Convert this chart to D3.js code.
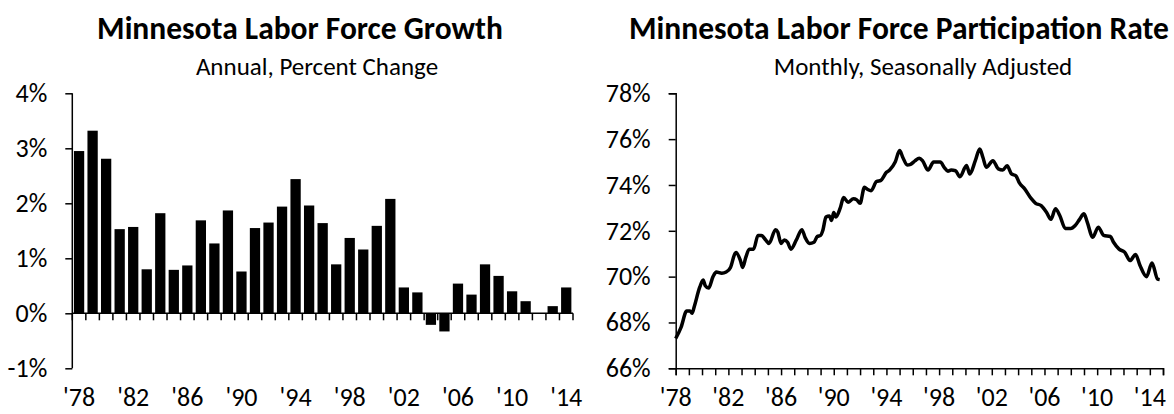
<!DOCTYPE html>
<html lang="en">
<head>
<meta charset="utf-8">
<title>Minnesota Labor Force</title>
<script src="https://d3js.org/d3.v7.min.js"></script>
<style>
  body { margin: 0; background: #fff; }
  svg text { font-family: Carlito, Calibri, Lato, "Open Sans", sans-serif; fill: #000; }
  .title { font-weight: bold; font-size: 31.5px; }
  .sub { font-size: 25px; }
  .tick-label { font-size: 26px; }
</style>
</head>
<body>
<div id="chart"></div>
<script>
// left chart: annual growth, percent
var years = d3.range(1978, 2015);
var growth = [2.95, 3.32, 2.81, 1.53, 1.57, 0.80, 1.82, 0.79, 0.87, 1.69,
              1.27, 1.87, 0.76, 1.55, 1.65, 1.94, 2.44, 1.96, 1.64, 0.89,
              1.37, 1.16, 1.59, 2.08, 0.47, 0.38, -0.21, -0.33, 0.54, 0.34,
              0.89, 0.68, 0.40, 0.22, 0.00, 0.13, 0.47];
var growthTicks = [4, 3, 2, 1, 0, -1];

// right chart: participation rate, monthly
var rateDates = ["1978-01","1978-06","1978-11","1979-02","1979-04","1979-06","1979-11","1980-02","1980-04","1980-07",
  "1980-11","1981-02","1981-07","1981-11","1982-03","1982-07","1982-08","1982-12","1983-02","1983-05",
  "1983-08","1983-12","1984-04","1984-07","1984-11","1985-02","1985-08","1985-10","1986-01","1986-04",
  "1986-07","1986-10","1987-03","1987-08","1987-11","1988-03","1988-07","1988-10","1989-01","1989-03",
  "1989-06","1989-09","1989-11","1990-01","1990-03","1990-07","1990-10","1991-02","1991-07","1991-10",
  "1992-01","1992-05","1992-08","1992-11","1993-04","1993-08","1994-01","1994-04","1994-09","1995-01",
  "1995-04","1995-08","1995-11","1996-03","1996-07","1996-10","1997-03","1997-08","1998-02","1998-06",
  "1998-09","1998-12","1999-04","1999-08","2000-02","2000-05","2000-10","2001-02","2001-05","2001-08",
  "2002-02","2002-07","2002-11","2003-03","2003-07","2003-11","2004-02","2004-07","2005-01","2005-05",
  "2005-10","2006-03","2006-07","2006-11","2007-03","2007-08","2008-01","2008-05","2008-09","2009-01",
  "2009-04","2009-09","2010-02","2010-07","2011-01","2011-04","2011-09","2012-02","2012-07","2012-12",
  "2013-04","2013-10","2014-03","2014-08","2014-10"];
var rateValues = [67.3, 67.8, 68.5, 68.5, 68.4, 68.7, 69.55, 69.85, 69.6, 69.5,
  70.0, 70.2, 70.15, 70.2, 70.4, 71.0, 71.05, 70.7, 70.4, 70.85,
  71.2, 71.2, 71.8, 71.8, 71.6, 71.45, 72.05, 71.95, 71.45, 71.6,
  71.5, 71.2, 71.6, 72.05, 71.7, 71.45, 71.5, 71.75, 71.8, 72.0,
  72.6, 72.65, 72.45, 72.8, 72.6, 73.0, 73.45, 73.25, 73.4, 73.35,
  73.2, 73.9, 73.8, 73.75, 74.15, 74.2, 74.55, 74.65, 75.0, 75.5,
  75.2, 74.87, 74.9, 75.05, 75.17, 75.05, 74.65, 75.0, 75.0, 74.75,
  74.6, 74.65, 74.62, 74.36, 74.85, 74.48, 75.06, 75.57, 75.2, 74.77,
  75.06, 74.7, 74.65, 74.84, 74.48, 74.4, 74.1, 73.83, 73.4, 73.2,
  73.1, 72.8, 72.5, 72.96, 72.67, 72.1, 72.1, 72.23, 72.5, 72.74,
  72.38, 71.72, 72.16, 71.8, 71.75, 71.5, 71.2, 71.07, 70.7, 70.97,
  70.5, 70.0, 70.6, 69.9, 69.87];
var rateTicks = [78, 76, 74, 72, 70, 68, 66];

var labelYears = [1978, 1982, 1986, 1990, 1994, 1998, 2002, 2006, 2010, 2014];
var yearLabel = function(y) { return "'" + String(y).slice(2); };

var W = 1174, H = 414;
var svg = d3.select("#chart").append("svg")
  .attr("width", W).attr("height", H);

// ---------- left: bars ----------
var x1 = d3.scaleBand()
  .domain(years)
  .range([72.3, 573])
  .paddingInner(0.24)
  .paddingOuter(0.12);

var y1 = d3.scaleLinear()
  .domain([-1, 4])
  .range([368.3, 93.3]);

var left = svg.append("g");

left.append("text").attr("class", "title")
  .attr("x", 300).attr("y", 39).attr("text-anchor", "middle")
  .text("Minnesota Labor Force Growth");
left.append("text").attr("class", "sub")
  .attr("x", 317).attr("y", 75).attr("text-anchor", "middle")
  .text("Annual, Percent Change");

left.selectAll("rect")
  .data(growth)
  .enter().append("rect")
  .attr("x", function(d, i) { return x1(years[i]); })
  .attr("width", x1.bandwidth())
  .attr("y", function(d) { return y1(Math.max(0, d)); })
  .attr("height", function(d) { return Math.abs(y1(d) - y1(0)); })
  .attr("fill", "#000");

// y axis
var yAxis1 = left.append("g")
  .attr("transform", "translate(72.3,0)")
  .call(d3.axisLeft(y1).tickValues(growthTicks).tickSize(7).tickFormat(function(d) { return d + "%"; }));
yAxis1.select(".domain").attr("d", "M0," + y1(-1) + "V" + y1(4));

// x axis along zero line, ticks between categories
var bounds = years.map(function(y) { return x1(y) - x1.step() * x1.paddingInner() / 2; });
bounds.push(573);
var xAxis1 = left.append("g");
xAxis1.append("line")
  .attr("x1", 72.3).attr("x2", 573)
  .attr("y1", y1(0)).attr("y2", y1(0));
xAxis1.selectAll("line.t")
  .data(bounds)
  .enter().append("line").attr("class", "t")
  .attr("x1", function(d) { return d; }).attr("x2", function(d) { return d; })
  .attr("y1", y1(0)).attr("y2", y1(0) + 7);
xAxis1.selectAll("line").attr("stroke", "#000").attr("stroke-width", 1.5);

left.selectAll("text.xl")
  .data(labelYears)
  .enter().append("text").attr("class", "tick-label xl")
  .attr("x", function(d) { return x1(d) + x1.bandwidth() / 2; })
  .attr("y", 406)
  .attr("text-anchor", "middle")
  .text(yearLabel);

// ---------- right: line ----------
var parse = d3.timeParse("%Y-%m");
var rate = rateDates.map(function(d, i) { return { date: parse(d), value: rateValues[i] }; });

var x2 = d3.scaleTime()
  .domain([new Date(1978, 0, 1), new Date(2015, 0, 1)])
  .range([675.7, 1163]);
var y2 = d3.scaleLinear()
  .domain([66, 78])
  .range([368.3, 93.3]);

var right = svg.append("g");

right.append("text").attr("class", "title")
  .attr("x", 899).attr("y", 39).attr("text-anchor", "middle")
  .text("Minnesota Labor Force Participation Rate");
right.append("text").attr("class", "sub")
  .attr("x", 923).attr("y", 75).attr("text-anchor", "middle")
  .text("Monthly, Seasonally Adjusted");

var yAxis2 = right.append("g")
  .attr("transform", "translate(675.7,0)")
  .call(d3.axisLeft(y2).tickValues(rateTicks).tickSize(7).tickFormat(function(d) { return d + "%"; }));

var yearTicks = d3.range(1978, 2016).map(function(y) { return new Date(y, 0, 1); });
var xAxis2 = right.append("g")
  .attr("transform", "translate(0," + y2(66) + ")")
  .call(d3.axisBottom(x2).tickValues(yearTicks).tickSize(7).tickFormat(""));

right.selectAll("text.xl")
  .data(labelYears)
  .enter().append("text").attr("class", "tick-label xl")
  .attr("x", function(d) { return x2(new Date(d, 0, 1)); })
  .attr("y", 406)
  .attr("text-anchor", "middle")
  .text(yearLabel);

right.append("path")
  .datum(rate)
  .attr("fill", "none")
  .attr("stroke", "#000")
  .attr("stroke-width", 3.5)
  .attr("stroke-linejoin", "round")
  .attr("d", d3.line()
    .x(function(d) { return x2(d.date); })
    .y(function(d) { return y2(d.value); })
    .curve(d3.curveMonotoneX));

// common axis styling
svg.selectAll(".domain, .tick line").attr("stroke", "#000").attr("stroke-width", 1.5);
svg.selectAll(".tick text")
  .attr("class", "tick-label")
  .attr("x", -25)
  .attr("fill", "#000");
</script>
</body>
</html>
